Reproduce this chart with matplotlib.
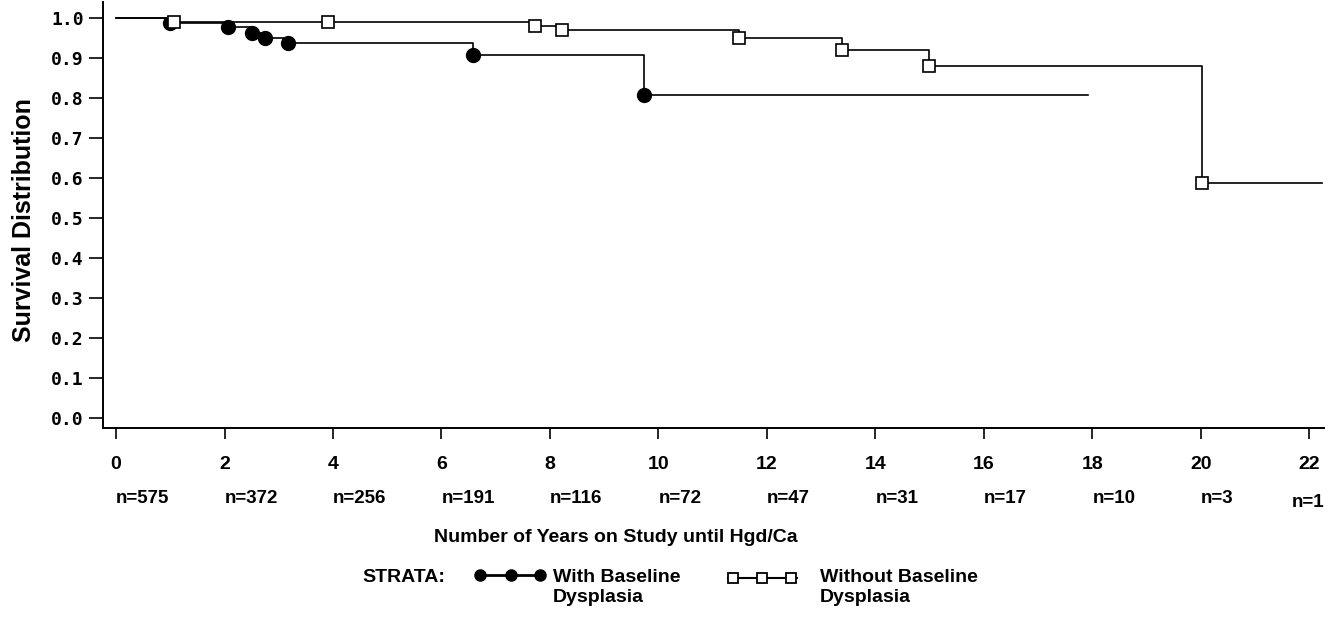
import matplotlib
matplotlib.use("Agg")
import matplotlib.pyplot as plt
import matplotlib.transforms as mtransforms
from matplotlib.lines import Line2D

# ----- Data -----
with_times = [0.99, 2.06, 2.50, 2.74, 3.17, 6.58, 9.74]
with_surv = [0.988, 0.977, 0.962, 0.950, 0.937, 0.908, 0.808]
with_end = 17.92

without_times = [1.07, 3.90, 7.73, 8.23, 11.49, 13.39, 14.99, 20.02]
without_surv = [0.991, 0.989, 0.980, 0.969, 0.951, 0.919, 0.880, 0.588]
without_end = 22.23

year_ticks = list(range(0, 23, 2))
at_risk = [575, 372, 256, 191, 116, 72, 47, 31, 17, 10, 3, 1]
surv_ticks = [i / 10 for i in range(11)]

BOLD = dict(family=["Liberation Sans", "DejaVu Sans"], fontweight="bold")

# ----- Figure -----
fig = plt.figure(figsize=(13.36, 6.17), dpi=100)
ax = fig.add_axes([0.0771, 0.3063, 0.9139, 0.6904])

def km_step(times, surv, end):
    xs = [0] + times + [end]
    ys = [1.0] + surv + [surv[-1]]
    return xs, ys

xs, ys = km_step(with_times, with_surv, with_end)
ax.step(xs, ys, where="post", color="black", lw=1.2)
ax.plot(with_times, with_surv, "o", color="black", ms=10, ls="none")

xs, ys = km_step(without_times, without_surv, without_end)
ax.step(xs, ys, where="post", color="black", lw=1.2)
ax.plot(without_times, without_surv, "s", mfc="white", mec="black",
        mew=1.2, ms=9, ls="none")

ax.set_xlim(-0.24, 22.27)
ax.set_ylim(-0.025, 1.04)
ax.set_xticks(year_ticks)
ax.set_yticks(surv_ticks)
ax.set_yticklabels([f"{v:.1f}" for v in surv_ticks],
                   family="DejaVu Sans Mono", fontweight="bold", fontsize=13)
ax.set_xticklabels([str(t) for t in year_ticks], fontsize=14, **BOLD)
ax.tick_params(axis="x", length=8, width=1.2, pad=12)
ax.tick_params(axis="y", length=10, width=1.2, pad=4)
for s in ["top", "right"]:
    ax.spines[s].set_visible(False)
for s in ["left", "bottom"]:
    ax.spines[s].set_linewidth(1.4)

# at-risk counts under the tick labels
trans = mtransforms.blended_transform_factory(ax.transData, fig.transFigure)
for t, n in zip(year_ticks, at_risk):
    if t == year_ticks[-1]:
        ax.text(22.27, 0.178, f"n={n}", transform=trans, ha="right",
                va="baseline", fontsize=13.5, **BOLD)
    else:
        ax.text(t, 0.185, f"n={n}", transform=trans, ha="left",
                va="baseline", fontsize=13.5, **BOLD)

fig.text(0.461, 1 - 542 / 617, "Number of Years on Study until Hgd/Ca",
         ha="center", va="baseline", fontsize=14, **BOLD)
fig.text(0.018, 0.643, "Survival Distribution", rotation=90,
         ha="center", va="center", fontsize=18, **BOLD)

# ----- Legend -----
fig.text(362 / 1336, 1 - 582 / 617, "STRATA:", ha="left", va="baseline",
         fontsize=14, **BOLD)
fig.add_artist(Line2D([477 / 1336, 543 / 1336], [1 - 575 / 617] * 2,
                      color="black", lw=2, transform=fig.transFigure))
fig.add_artist(Line2D([480 / 1336, 511 / 1336, 540 / 1336], [1 - 575 / 617] * 3,
                      color="black", ls="none", marker="o", ms=8,
                      transform=fig.transFigure))
fig.text(553 / 1336, 1 - 582 / 617, "With Baseline", ha="left",
         va="baseline", fontsize=14, **BOLD)
fig.text(553 / 1336, 1 - 602 / 617, "Dysplasia", ha="left",
         va="baseline", fontsize=14, **BOLD)

fig.add_artist(Line2D([728 / 1336, 797 / 1336], [1 - 578 / 617] * 2,
                      color="black", lw=1.5, transform=fig.transFigure))
fig.add_artist(Line2D([733 / 1336, 762 / 1336, 791 / 1336], [1 - 578 / 617] * 3,
                      color="black", ls="none", marker="s", ms=7, mfc="white",
                      mec="black", mew=1.3, transform=fig.transFigure))
fig.text(820 / 1336, 1 - 582 / 617, "Without Baseline", ha="left",
         va="baseline", fontsize=14, **BOLD)
fig.text(820 / 1336, 1 - 602 / 617, "Dysplasia", ha="left",
         va="baseline", fontsize=14, **BOLD)

fig.savefig("out.png", dpi=100)
